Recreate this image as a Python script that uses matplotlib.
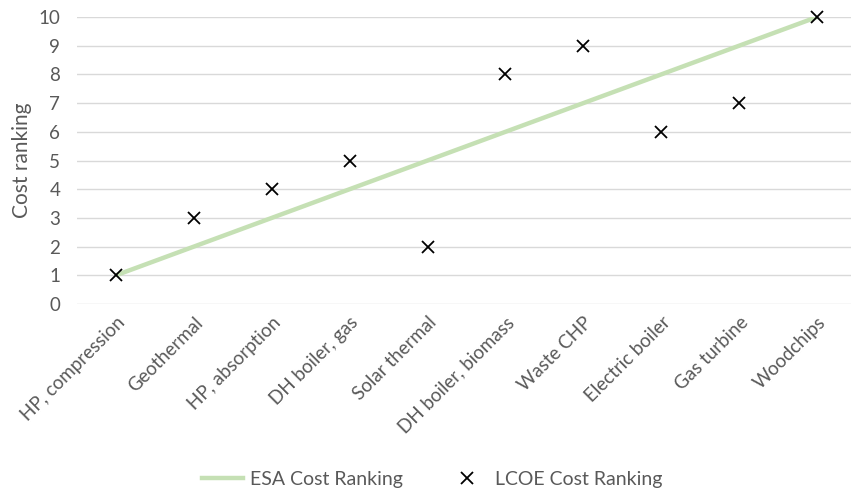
import matplotlib
matplotlib.use("Agg")
import matplotlib.pyplot as plt
from matplotlib.lines import Line2D

plt.rcParams['font.family'] = ['Lato', 'DejaVu Sans']

technologies = ["HP, compression", "Geothermal", "HP, absorption", "DH boiler, gas",
                "Solar thermal", "DH boiler, biomass", "Waste CHP", "Electric boiler",
                "Gas turbine", "Woodchips"]
esa_rank = [1, 2, 3, 4, 5, 6, 7, 8, 9, 10]
lcoe_rank = [1, 3, 4, 5, 2, 8, 9, 6, 7, 10]
y_ticks = list(range(0, 11))

W, H = 851, 491
fig = plt.figure(figsize=(W / 100, H / 100), dpi=100)
ax = fig.add_axes([77 / W, (H - 304) / H, (W - 77) / W, (304 - 17) / H])

x = list(range(len(technologies)))
ax.plot(x, esa_rank, color="#c5e0b4", linewidth=3.2, solid_capstyle="butt", zorder=2)
ax.plot(x, lcoe_rank, linestyle="none", marker="x", markersize=9,
        markeredgewidth=1.3, color="black", zorder=3, clip_on=False)

ax.set_xlim(-0.5, (W - 116) / 77.9)
ax.set_ylim(0, 10)
ax.set_yticks(y_ticks)
ax.set_yticklabels([str(v) for v in y_ticks], fontsize=13.5, color="#595959")
ax.set_xticks(x)
ax.set_xticklabels(technologies, rotation=45, ha="right", rotation_mode="anchor",
                   fontsize=13.5, color="#595959")
ax.tick_params(axis="both", length=0)
ax.tick_params(axis="y", pad=12)
ax.tick_params(axis="x", pad=7)
ax.grid(axis="y", color="#d9d9d9", linewidth=1.0)
ax.set_axisbelow(True)
for s in ax.spines.values():
    s.set_visible(False)

ax.set_ylabel("Cost ranking", fontsize=15, color="#595959", labelpad=5)

handles = [Line2D([], [], color="#c5e0b4", linewidth=3.2),
           Line2D([], [], linestyle="none", marker="x", markersize=9,
                  markeredgewidth=1.3, color="black")]
fig.legend(handles, ["ESA Cost Ranking", "LCOE Cost Ranking"], loc="center",
           bbox_to_anchor=(432 / W, 1 - 479 / H), ncol=2, frameon=False,
           fontsize=14, labelcolor="#595959", handlelength=2.1,
           columnspacing=2.2, handletextpad=0.4)

fig.savefig("out.png", dpi=100)
